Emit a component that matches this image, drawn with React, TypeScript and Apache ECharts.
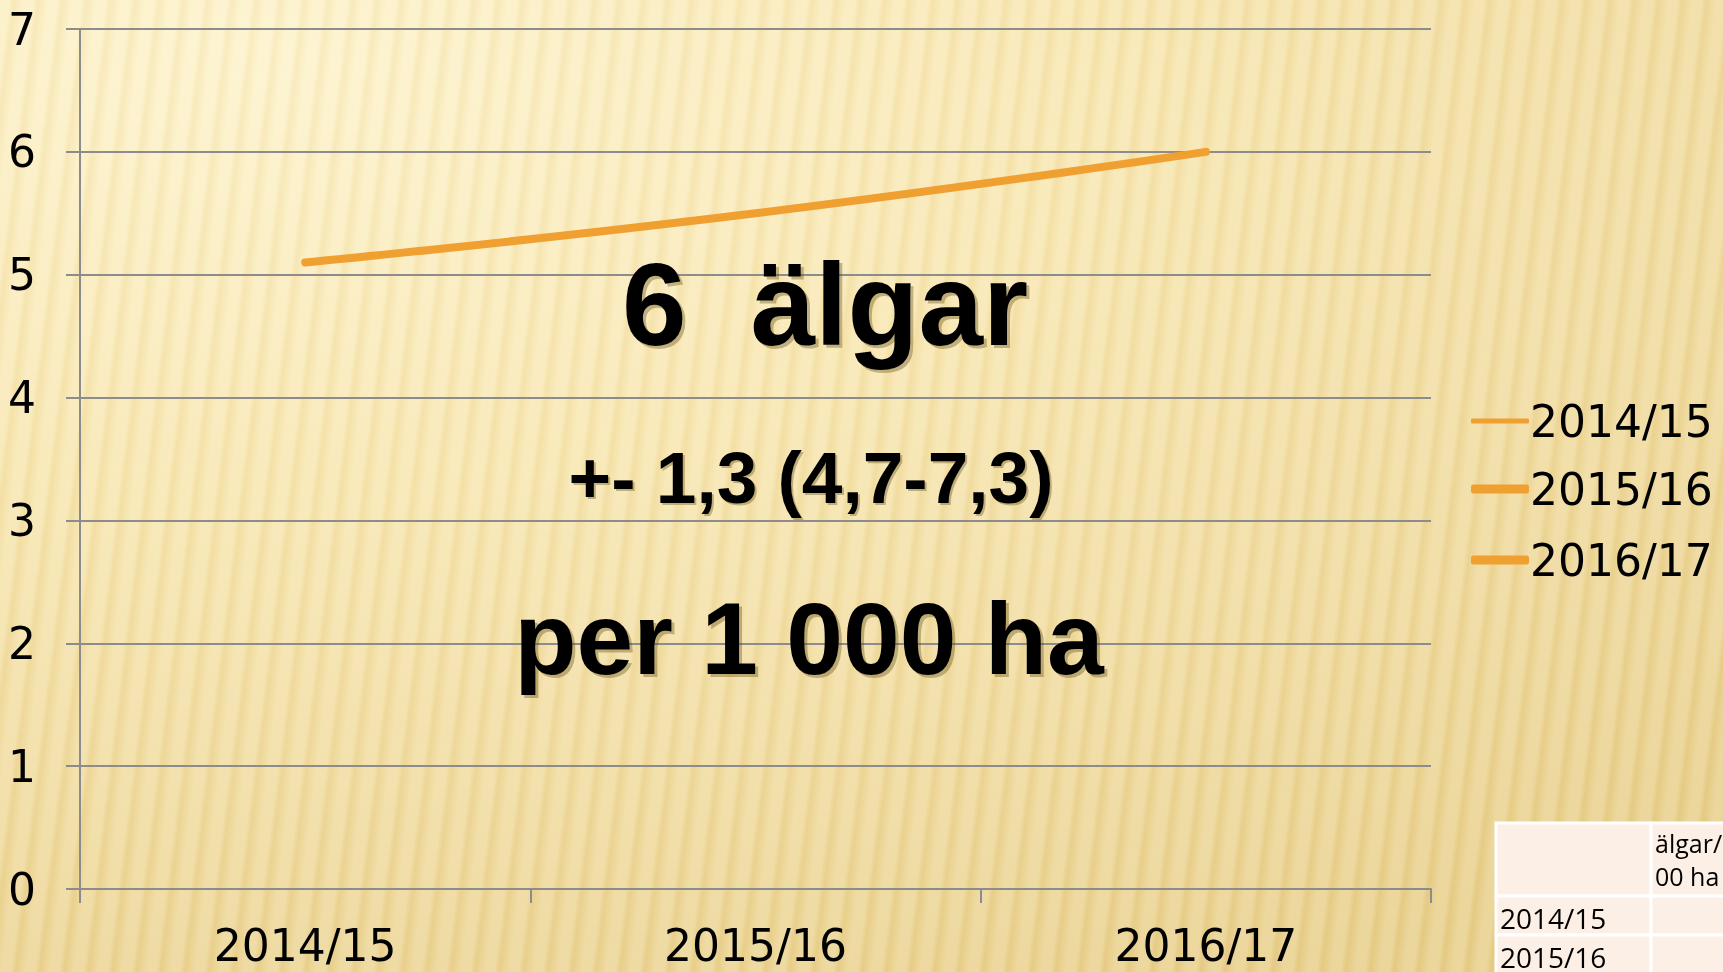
import React, { useEffect, useRef } from "react";
import * as echarts from "echarts";

const categories = ["2014/15", "2015/16", "2016/17"];
const legendNames = ["2014/15", "2015/16", "2016/17"];
const densityValues = [5.1, 5.5, 6.0];
const yTicks = { min: 0, max: 7, interval: 1 };
const overlayLines = ["6  älgar", "+- 1,3 (4,7-7,3)", "per 1 000 ha"];
const tableHeaderLines = ["älgar/1 0", "00 ha"];
const tableRows = ["2014/15", "2015/16"];

const LINE_COLOR = "#efa030";
const GRID_COLOR = "#8c8c8c";
const LABEL_FONT = "DejaVu Sans";

export default function App() {
  const ref = useRef<HTMLDivElement>(null);

  useEffect(() => {
    if (!ref.current) return;
    const chart = echarts.init(ref.current, undefined, { renderer: "svg" });

    const tableX = [1496, 1651, 1800];
    const tableY = [823, 896, 935, 974];
    const tableGraphics: any[] = [];
    for (let r = 0; r < tableY.length - 1; r++) {
      for (let c = 0; c < tableX.length - 1; c++) {
        tableGraphics.push({
          type: "rect",
          shape: {
            x: tableX[c],
            y: tableY[r],
            width: tableX[c + 1] - tableX[c],
            height: tableY[r + 1] - tableY[r],
          },
          style: { fill: "#fcefe6", stroke: "#ffffff", lineWidth: 3 },
          z: 10,
        });
      }
    }
    const headerYs = [843, 876];
    tableHeaderLines.forEach((t, i) => {
      tableGraphics.push({
        type: "text",
        style: {
          x: tableX[1] + 4,
          y: headerYs[i],
          text: t,
          font: "25px 'Open Sans'",
          fill: "#000",
          textVerticalAlign: "middle",
        },
        z: 11,
      });
    });
    tableRows.forEach((label, i) => {
      tableGraphics.push({
        type: "text",
        style: {
          x: tableX[0] + 4,
          y: (tableY[i + 1] + tableY[i + 2]) / 2 + 2,
          text: label,
          font: "28px 'Open Sans'",
          fill: "#000",
          textVerticalAlign: "middle",
        },
        z: 11,
      });
    });

    const overlayPos = [
      { x: 825, y: 305, size: 116 },
      { x: 811, y: 477, size: 73 },
      { x: 809, y: 639, size: 102 },
    ];

    const overlayGraphics: any[] = [];
    overlayLines.forEach((t, i) => {
      const p = overlayPos[i];
      const off = Math.max(2, Math.round(p.size / 35));
      overlayGraphics.push({
        type: "text",
        style: {
          x: p.x + off,
          y: p.y + off,
          text: t,
          font: `bold ${p.size}px 'Liberation Sans'`,
          fill: "rgba(90,70,10,0.35)",
          textAlign: "center",
          textVerticalAlign: "middle",
        },
        z: 19,
        silent: true,
      });
      overlayGraphics.push({
        type: "text",
        style: {
          x: p.x,
          y: p.y,
          text: t,
          font: `bold ${p.size}px 'Liberation Sans'`,
          fill: "#000",
          textAlign: "center",
          textVerticalAlign: "middle",
        },
        z: 20,
      });
    });

    chart.setOption({
      animation: false,
      backgroundColor: "transparent",
      grid: { left: 80, right: 1723 - 1431, top: 29, bottom: 972 - 889, containLabel: false },
      legend: [
        {
          data: [legendNames[0]],
          orient: "vertical",
          left: 1466,
          top: 394,
          icon: "roundRect",
          itemWidth: 58,
          itemHeight: 5,
          itemGap: 20,
          textStyle: { color: "#000", fontSize: 44, fontFamily: LABEL_FONT, padding: [0, 0, 0, -4] },
        },
        {
          data: [legendNames[1], legendNames[2]],
          orient: "vertical",
          left: 1466,
          top: 462,
          icon: "roundRect",
          itemWidth: 58,
          itemHeight: 9,
          itemGap: 27,
          textStyle: { color: "#000", fontSize: 44, fontFamily: LABEL_FONT, padding: [0, 0, 0, -4] },
        },
      ],
      xAxis: {
        type: "category",
        data: categories,
        boundaryGap: true,
        axisLine: { show: true, lineStyle: { color: GRID_COLOR, width: 2 } },
        axisTick: { show: true, length: 14, lineStyle: { color: GRID_COLOR, width: 2 } },
        axisLabel: { color: "#000", fontSize: 44, fontFamily: LABEL_FONT, margin: 34 },
        splitLine: { show: false },
      },
      yAxis: {
        type: "value",
        min: yTicks.min,
        max: yTicks.max,
        interval: yTicks.interval,
        axisLine: { show: true, lineStyle: { color: GRID_COLOR, width: 2 } },
        axisTick: { show: true, length: 14, lineStyle: { color: GRID_COLOR, width: 2 } },
        axisLabel: { color: "#000", fontSize: 44, fontFamily: LABEL_FONT, margin: 44 },
        splitLine: { show: true, lineStyle: { color: GRID_COLOR, width: 2 } },
      },
      series: [
        {
          name: legendNames[0],
          type: "line",
          data: [],
          color: LINE_COLOR,
          lineStyle: { width: 3 },
          showSymbol: false,
        },
        {
          name: legendNames[1],
          type: "line",
          data: [],
          color: LINE_COLOR,
          lineStyle: { width: 8 },
          showSymbol: false,
        },
        {
          name: legendNames[2],
          type: "line",
          data: densityValues,
          color: LINE_COLOR,
          smooth: true,
          showSymbol: false,
          lineStyle: { width: 8, cap: "round", color: LINE_COLOR },
        },
      ],
      graphic: [...overlayGraphics, ...tableGraphics],
    });

    return () => chart.dispose();
  }, []);

  const bg = [
    "repeating-linear-gradient(97deg, rgba(255,255,255,0.18) 0px, rgba(255,255,255,0.18) 9px, rgba(190,150,60,0.07) 14px, rgba(255,255,255,0.18) 24px)",
    "radial-gradient(ellipse 120% 110% at 15% 5%, #fdf2c9 0%, #f8e6ae 40%, #f0da9b 70%, #e7cd86 100%)",
  ].join(",");

  return (
    <div
      ref={ref}
      style={{
        position: "fixed",
        left: 0,
        top: 0,
        width: 1723,
        height: 972,
        background: bg,
      }}
    />
  );
}
